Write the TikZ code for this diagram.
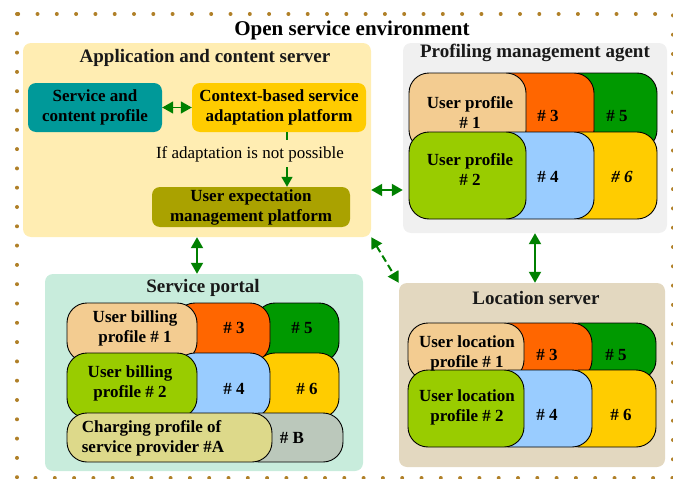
\documentclass[tikz,border=0pt]{standalone}
\usepackage{fontspec}
\setmainfont{Liberation Serif}
\usepackage{tikz}
\usetikzlibrary{arrows.meta,positioning}
\usepackage{xcolor}
\definecolor{envdot}{RGB}{176,128,40}
\definecolor{appyellow}{RGB}{255,237,178}
\definecolor{pmagray}{RGB}{240,240,240}
\definecolor{portalgreen}{RGB}{200,236,220}
\definecolor{locbeige}{RGB}{227,216,192}
\definecolor{svcteal}{RGB}{0,153,153}
\definecolor{ctxgold}{RGB}{255,204,0}
\definecolor{uemolive}{RGB}{170,162,0}
\definecolor{tiletan}{RGB}{243,204,145}
\definecolor{tileorange}{RGB}{255,102,0}
\definecolor{tilegreen}{RGB}{0,153,0}
\definecolor{tilelime}{RGB}{153,204,0}
\definecolor{tileblue}{RGB}{153,204,255}
\definecolor{tilekhaki}{RGB}{221,217,138}
\definecolor{tilesage}{RGB}{187,200,187}
\definecolor{linkgreen}{RGB}{0,128,0}
\tikzstyle{area} = [rectangle, rounded corners=8pt, inner sep=0pt]
\tikzstyle{areatitle} = [font=\fontsize{19}{22}\selectfont\bfseries, text=black!90]
\tikzstyle{block} = [rectangle, rounded corners=8pt, inner sep=0pt, align=center, font=\fontsize{17}{20}\selectfont\bfseries]
\tikzstyle{tile} = [draw=black, line width=0.9pt, rounded corners=20pt]
\tikzstyle{lbl} = [align=center, inner sep=0pt, font=\fontsize{17}{20}\selectfont\bfseries]
\tikzstyle{link} = [line width=2pt, color=linkgreen, {Triangle[length=11pt,width=12pt]}-{Triangle[length=11pt,width=12pt]}]

\begin{document}
\begin{tikzpicture}[x=1pt, y=-1pt]
\useasboundingbox (0,0) rectangle (673,479);
% open service environment (dotted frame)
\draw[envdot, line width=4pt, line cap=round, dash pattern=on 0pt off 19.3pt] (17,14) rectangle (673,478);
\node (envtitle) at (352,30) {\fontsize{21}{24}\selectfont\bfseries Open service environment};

% application and content server
\node[area, fill=appyellow, minimum width=348, minimum height=194] (app) at (197,140) {};
\node[areatitle] (apptitle) at (205,58) {Application and content server};
\node[block, fill=svcteal, minimum width=134, minimum height=49] (svc) at (95,107.5) {Service and\\content profile};
\node[block, fill=ctxgold, minimum width=174, minimum height=49] (ctx) at (279,107.5) {Context-based service\\adaptation platform};
\node[block, fill=uemolive, minimum width=198, minimum height=40] (uem) at (251,207) {User expectation\\management platform};
\node[inner sep=1pt, font=\fontsize{17}{20}\selectfont] (ifnot) at (250,154) {If adaptation is not possible};
\draw[link, line width=1.5pt] (svc) -- (ctx);
\draw[line width=1.5pt, linkgreen] ([xshift=8pt]ctx.south) -- ([xshift=8pt]ctx.south |- 0,140);
\draw[line width=1.5pt, linkgreen, -{Triangle[length=10pt,width=11pt]}] ([xshift=8pt]ctx.south |- 0,167) -- ([xshift=8pt]ctx.south |- uem.north);

% profiling management agent
\node[area, fill=pmagray, minimum width=264, minimum height=190] (pma) at (535,138) {};
\node[areatitle] (pmatitle) at (535,53) {Profiling management agent};
\draw[tile, fill=tilegreen] (560,73) rectangle (657,150);
\draw[tile, fill=tileorange] (490,73) rectangle (594,150);
\draw[tile, fill=tiletan] (409,73) rectangle (526,150);
\draw[tile, fill=ctxgold] (560,132) rectangle (657,219);
\draw[tile, fill=tileblue] (490,132) rectangle (594,219);
\draw[tile, fill=tilelime] (409,132) rectangle (526,219);
\node[lbl] (up1) at (470,113) {User profile\\\# 1};
\node[lbl] (up3) at (548,116) {\# 3};
\node[lbl] (up5) at (617,116) {\# 5};
\node[lbl] (up2) at (470,170) {User profile\\\# 2};
\node[lbl] (up4) at (548,177) {\# 4};
\node[lbl] (up6) at (622,177) {\itshape\# 6};

% service portal
\node[area, fill=portalgreen, minimum width=318, minimum height=197] (portal) at (204,372.5) {};
\node[areatitle] (portaltitle) at (203,288) {Service portal};
\begin{scope}[rounded corners=26pt]
\draw[tile, fill=tilegreen] (255,303) rectangle (339,362);
\draw[tile, fill=tileorange] (175,303) rectangle (270,362);
\draw[tile, fill=tiletan] (67,303) rectangle (197,362);
\draw[tile, fill=ctxgold] (255,353) rectangle (339,418);
\draw[tile, fill=tileblue] (175,353) rectangle (270,418);
\draw[tile, fill=tilelime] (67,353) rectangle (197,418);
\draw[tile, fill=tilesage] (240,413) rectangle (343,462);
\draw[tile, fill=tilekhaki] (67,413) rectangle (272,462);
\end{scope}
\node[lbl] (bp1) at (135,328) {User billing\\profile \# 1};
\node[lbl] (bp3) at (234,328) {\# 3};
\node[lbl] (bp5) at (302,328) {\# 5};
\node[lbl] (bp2) at (130,383) {User billing\\profile \# 2};
\node[lbl] (bp4) at (234,389) {\# 4};
\node[lbl] (bp6) at (307,389) {\# 6};
\node[lbl, align=left] (cpa) at (153,438) {Charging profile of\\service provider \#A};
\node[lbl] (cpb) at (292,438) {\# B};

% location server
\node[area, fill=locbeige, minimum width=266, minimum height=184] (loc) at (532,375) {};
\node[areatitle] (loctitle) at (536,298) {Location server};
\draw[tile, fill=tilegreen] (560,323) rectangle (656,380);
\draw[tile, fill=tileorange] (490,323) rectangle (592,380);
\draw[tile, fill=tiletan] (408,323) rectangle (524,380);
\draw[tile, fill=ctxgold] (560,370) rectangle (656,447);
\draw[tile, fill=tileblue] (490,370) rectangle (592,447);
\draw[tile, fill=tilelime] (408,370) rectangle (524,447);
\node[lbl] (lp1) at (467,353) {User location\\profile \# 1};
\node[lbl] (lp3) at (547,355) {\# 3};
\node[lbl] (lp5) at (616,355) {\# 5};
\node[lbl] (lp2) at (467,407) {User location\\profile \# 2};
\node[lbl] (lp4) at (547,415) {\# 4};
\node[lbl] (lp6) at (621,415) {\# 6};

% links between the servers
\draw[link] (app.east |- 0,190) -- (pma.west |- 0,190);
\draw[link] (app.south) -- (app.south |- portal.north);
\draw[link] (pma.south) -- (pma.south |- loc.north);
\draw[link, dash pattern=on 7pt off 4pt] (app.south east) -- (loc.north west);
\end{tikzpicture}
\end{document}
